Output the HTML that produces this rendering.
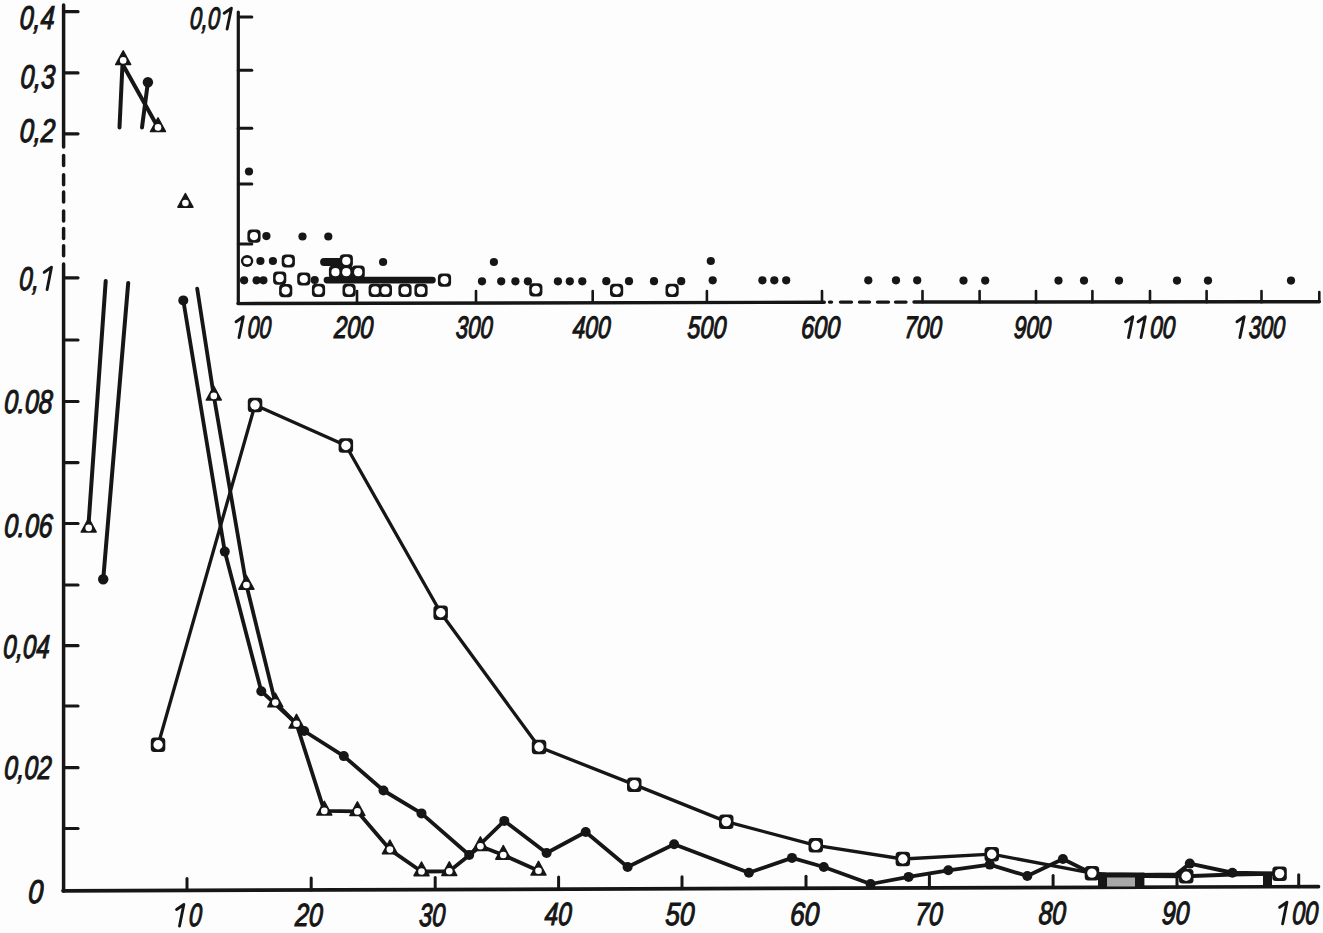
<!DOCTYPE html><html><head><meta charset="utf-8"><style>html,body{margin:0;padding:0;background:#fff;width:1323px;height:933px;overflow:hidden}svg{display:block}text{font-family:"Liberation Sans",sans-serif;font-style:italic;fill:#161616;stroke:#161616;stroke-width:1.15}</style></head><body>
<svg width="1323" height="933" viewBox="0 0 1323 933">
<rect width="1323" height="933" fill="#fdfdfd"/>
<path d="M63.6,5.0 L63.6,147.0" fill="none" stroke="#161616" stroke-width="3.5" stroke-linejoin="round" stroke-linecap="round" />
<path d="M63.6,155.5 L63.6,165.5" fill="none" stroke="#161616" stroke-width="3.5" stroke-linejoin="round" stroke-linecap="round" />
<path d="M63.6,174.7 L63.6,184.7" fill="none" stroke="#161616" stroke-width="3.5" stroke-linejoin="round" stroke-linecap="round" />
<path d="M63.6,192.0 L63.6,202.0" fill="none" stroke="#161616" stroke-width="3.5" stroke-linejoin="round" stroke-linecap="round" />
<path d="M63.6,211.0 L63.6,221.0" fill="none" stroke="#161616" stroke-width="3.5" stroke-linejoin="round" stroke-linecap="round" />
<path d="M63.6,228.4 L63.6,238.4" fill="none" stroke="#161616" stroke-width="3.5" stroke-linejoin="round" stroke-linecap="round" />
<path d="M63.6,245.7 L63.6,255.7" fill="none" stroke="#161616" stroke-width="3.5" stroke-linejoin="round" stroke-linecap="round" />
<path d="M63.6,264.0 L63.6,891.0" fill="none" stroke="#161616" stroke-width="3.5" stroke-linejoin="round" stroke-linecap="round" />
<path d="M63.0,890.8 L1318.5,886.6" fill="none" stroke="#161616" stroke-width="3.7" stroke-linejoin="round" stroke-linecap="round" />
<path d="M63.6,11.7 L78.0,11.7" fill="none" stroke="#161616" stroke-width="3.2" stroke-linejoin="round" stroke-linecap="round" />
<path d="M63.6,72.9 L78.0,72.9" fill="none" stroke="#161616" stroke-width="3.2" stroke-linejoin="round" stroke-linecap="round" />
<path d="M63.6,133.8 L78.0,133.8" fill="none" stroke="#161616" stroke-width="3.2" stroke-linejoin="round" stroke-linecap="round" />
<path d="M63.6,277.8 L78.0,277.8" fill="none" stroke="#161616" stroke-width="3.2" stroke-linejoin="round" stroke-linecap="round" />
<path d="M63.6,340.0 L78.0,340.0" fill="none" stroke="#161616" stroke-width="3.2" stroke-linejoin="round" stroke-linecap="round" />
<path d="M63.6,401.5 L78.0,401.5" fill="none" stroke="#161616" stroke-width="3.2" stroke-linejoin="round" stroke-linecap="round" />
<path d="M63.6,462.6 L78.0,462.6" fill="none" stroke="#161616" stroke-width="3.2" stroke-linejoin="round" stroke-linecap="round" />
<path d="M63.6,523.5 L78.0,523.5" fill="none" stroke="#161616" stroke-width="3.2" stroke-linejoin="round" stroke-linecap="round" />
<path d="M63.6,585.0 L78.0,585.0" fill="none" stroke="#161616" stroke-width="3.2" stroke-linejoin="round" stroke-linecap="round" />
<path d="M63.6,645.7 L78.0,645.7" fill="none" stroke="#161616" stroke-width="3.2" stroke-linejoin="round" stroke-linecap="round" />
<path d="M63.6,706.0 L78.0,706.0" fill="none" stroke="#161616" stroke-width="3.2" stroke-linejoin="round" stroke-linecap="round" />
<path d="M63.6,767.7 L78.0,767.7" fill="none" stroke="#161616" stroke-width="3.2" stroke-linejoin="round" stroke-linecap="round" />
<path d="M63.6,828.5 L78.0,828.5" fill="none" stroke="#161616" stroke-width="3.2" stroke-linejoin="round" stroke-linecap="round" />
<path d="M187.0,890.4 L187.0,878.4" fill="none" stroke="#161616" stroke-width="3.0" stroke-linejoin="round" stroke-linecap="round" />
<path d="M311.2,890.0 L311.2,878.0" fill="none" stroke="#161616" stroke-width="3.0" stroke-linejoin="round" stroke-linecap="round" />
<path d="M435.2,889.6 L435.2,877.6" fill="none" stroke="#161616" stroke-width="3.0" stroke-linejoin="round" stroke-linecap="round" />
<path d="M558.6,889.1 L558.6,877.1" fill="none" stroke="#161616" stroke-width="3.0" stroke-linejoin="round" stroke-linecap="round" />
<path d="M682.0,888.7 L682.0,876.7" fill="none" stroke="#161616" stroke-width="3.0" stroke-linejoin="round" stroke-linecap="round" />
<path d="M806.0,888.3 L806.0,876.3" fill="none" stroke="#161616" stroke-width="3.0" stroke-linejoin="round" stroke-linecap="round" />
<path d="M929.4,887.9 L929.4,875.9" fill="none" stroke="#161616" stroke-width="3.0" stroke-linejoin="round" stroke-linecap="round" />
<path d="M1053.1,887.5 L1053.1,875.5" fill="none" stroke="#161616" stroke-width="3.0" stroke-linejoin="round" stroke-linecap="round" />
<path d="M1177.0,887.1 L1177.0,875.1" fill="none" stroke="#161616" stroke-width="3.0" stroke-linejoin="round" stroke-linecap="round" />
<path d="M1298.7,886.7 L1298.7,874.7" fill="none" stroke="#161616" stroke-width="3.0" stroke-linejoin="round" stroke-linecap="round" />
<g transform="translate(19.3,28.5) skewX(-3)"><text x="0" y="0" textLength="34.8" lengthAdjust="spacingAndGlyphs" font-size="33">0,4</text></g>
<g transform="translate(19.9,88.3) skewX(-3)"><text x="0" y="0" textLength="34.7" lengthAdjust="spacingAndGlyphs" font-size="33">0,3</text></g>
<g transform="translate(19.3,142.0) skewX(-3)"><text x="0" y="0" textLength="35.4" lengthAdjust="spacingAndGlyphs" font-size="33">0,2</text></g>
<g transform="translate(18.7,289.5) skewX(-3)"><text x="0" y="0" textLength="33.5" lengthAdjust="spacingAndGlyphs" font-size="33">0, </text><path d="M28.4,0 L31.6,-22.2 L24.6,-17.2" fill="none" stroke="#161616" stroke-width="2.9" stroke-linecap="round" stroke-linejoin="round"/></g>
<g transform="translate(3.7,412.5) skewX(-3)"><text x="0" y="0" textLength="48.5" lengthAdjust="spacingAndGlyphs" font-size="33">0.08</text></g>
<g transform="translate(3.7,536.5) skewX(-3)"><text x="0" y="0" textLength="48.5" lengthAdjust="spacingAndGlyphs" font-size="33">0.06</text></g>
<g transform="translate(2.7,657.5) skewX(-3)"><text x="0" y="0" textLength="46.5" lengthAdjust="spacingAndGlyphs" font-size="33">0,04</text></g>
<g transform="translate(3.7,779.0) skewX(-3)"><text x="0" y="0" textLength="47.5" lengthAdjust="spacingAndGlyphs" font-size="33">0,02</text></g>
<g transform="translate(27.7,903.0) skewX(-3)"><text x="0" y="0" textLength="15.0" lengthAdjust="spacingAndGlyphs" font-size="33">0</text></g>
<g transform="translate(175.6,926.0) skewX(-3)"><text x="0" y="0" textLength="26.0" lengthAdjust="spacingAndGlyphs" font-size="32"> 0</text><path d="M3.9,0 L7.1,-21.5 L0.1,-16.5" fill="none" stroke="#161616" stroke-width="2.9" stroke-linecap="round" stroke-linejoin="round"/></g>
<g transform="translate(294.7,925.8) skewX(-3)"><text x="0" y="0" textLength="27.5" lengthAdjust="spacingAndGlyphs" font-size="32">20</text></g>
<g transform="translate(418.7,925.5) skewX(-3)"><text x="0" y="0" textLength="26.1" lengthAdjust="spacingAndGlyphs" font-size="32">30</text></g>
<g transform="translate(544.2,925.3) skewX(-3)"><text x="0" y="0" textLength="27.0" lengthAdjust="spacingAndGlyphs" font-size="32">40</text></g>
<g transform="translate(665.1,925.0) skewX(-3)"><text x="0" y="0" textLength="28.9" lengthAdjust="spacingAndGlyphs" font-size="32">50</text></g>
<g transform="translate(789.7,924.8) skewX(-3)"><text x="0" y="0" textLength="29.0" lengthAdjust="spacingAndGlyphs" font-size="32">60</text></g>
<g transform="translate(914.7,924.5) skewX(-3)"><text x="0" y="0" textLength="27.5" lengthAdjust="spacingAndGlyphs" font-size="32">70</text></g>
<g transform="translate(1038.2,924.3) skewX(-3)"><text x="0" y="0" textLength="27.3" lengthAdjust="spacingAndGlyphs" font-size="32">80</text></g>
<g transform="translate(1161.5,924.0) skewX(-3)"><text x="0" y="0" textLength="27.3" lengthAdjust="spacingAndGlyphs" font-size="32">90</text></g>
<g transform="translate(1278.7,923.8) skewX(-3)"><text x="0" y="0" textLength="38.9" lengthAdjust="spacingAndGlyphs" font-size="32"> 00</text><path d="M3.9,0 L7.1,-21.5 L0.1,-16.5" fill="none" stroke="#161616" stroke-width="2.9" stroke-linecap="round" stroke-linejoin="round"/></g>
<path d="M238.3,12.0 L238.3,303.5" fill="none" stroke="#161616" stroke-width="3.2" stroke-linejoin="round" stroke-linecap="round" />
<path d="M238.3,17.1 L251.8,17.1" fill="none" stroke="#161616" stroke-width="3.0" stroke-linejoin="round" stroke-linecap="round" />
<path d="M238.3,70.3 L251.8,70.3" fill="none" stroke="#161616" stroke-width="3.0" stroke-linejoin="round" stroke-linecap="round" />
<path d="M238.3,128.2 L251.8,128.2" fill="none" stroke="#161616" stroke-width="3.0" stroke-linejoin="round" stroke-linecap="round" />
<path d="M238.3,184.0 L251.8,184.0" fill="none" stroke="#161616" stroke-width="3.0" stroke-linejoin="round" stroke-linecap="round" />
<path d="M238.3,244.0 L251.8,244.0" fill="none" stroke="#161616" stroke-width="3.0" stroke-linejoin="round" stroke-linecap="round" />
<path d="M238.0,303.6 L824.3,302.2" fill="none" stroke="#161616" stroke-width="3.4" stroke-linejoin="round" stroke-linecap="round" />
<path d="M829.5,302.1 L831.5,302.1" fill="none" stroke="#161616" stroke-width="3.4" stroke-linejoin="round" stroke-linecap="round" />
<path d="M840.5,302.1 L851.5,302.1" fill="none" stroke="#161616" stroke-width="3.4" stroke-linejoin="round" stroke-linecap="round" />
<path d="M859.5,302.1 L869.5,302.1" fill="none" stroke="#161616" stroke-width="3.4" stroke-linejoin="round" stroke-linecap="round" />
<path d="M877.5,302.1 L888.5,302.1" fill="none" stroke="#161616" stroke-width="3.4" stroke-linejoin="round" stroke-linecap="round" />
<path d="M895.5,302.1 L906.0,302.1" fill="none" stroke="#161616" stroke-width="3.4" stroke-linejoin="round" stroke-linecap="round" />
<path d="M914.0,302.0 L1319.3,301.8" fill="none" stroke="#161616" stroke-width="3.4" stroke-linejoin="round" stroke-linecap="round" />
<path d="M1319.3,301.8 L1319.3,292.0" fill="none" stroke="#161616" stroke-width="2.6" stroke-linejoin="round" stroke-linecap="round" />
<path d="M357.0,302.3 L357.0,291.0" fill="none" stroke="#161616" stroke-width="2.6" stroke-linejoin="round" stroke-linecap="round" />
<path d="M476.0,302.3 L476.0,291.0" fill="none" stroke="#161616" stroke-width="2.6" stroke-linejoin="round" stroke-linecap="round" />
<path d="M592.7,302.3 L592.7,291.0" fill="none" stroke="#161616" stroke-width="2.6" stroke-linejoin="round" stroke-linecap="round" />
<path d="M706.9,302.3 L706.9,291.0" fill="none" stroke="#161616" stroke-width="2.6" stroke-linejoin="round" stroke-linecap="round" />
<path d="M822.0,302.3 L822.0,291.0" fill="none" stroke="#161616" stroke-width="2.6" stroke-linejoin="round" stroke-linecap="round" />
<path d="M922.5,302.3 L922.5,291.0" fill="none" stroke="#161616" stroke-width="2.6" stroke-linejoin="round" stroke-linecap="round" />
<path d="M979.6,302.3 L979.6,291.0" fill="none" stroke="#161616" stroke-width="2.6" stroke-linejoin="round" stroke-linecap="round" />
<path d="M1036.0,302.3 L1036.0,291.0" fill="none" stroke="#161616" stroke-width="2.6" stroke-linejoin="round" stroke-linecap="round" />
<path d="M1092.4,302.3 L1092.4,291.0" fill="none" stroke="#161616" stroke-width="2.6" stroke-linejoin="round" stroke-linecap="round" />
<path d="M1150.0,302.3 L1150.0,291.0" fill="none" stroke="#161616" stroke-width="2.6" stroke-linejoin="round" stroke-linecap="round" />
<path d="M1206.6,302.3 L1206.6,291.0" fill="none" stroke="#161616" stroke-width="2.6" stroke-linejoin="round" stroke-linecap="round" />
<path d="M1261.5,302.3 L1261.5,291.0" fill="none" stroke="#161616" stroke-width="2.6" stroke-linejoin="round" stroke-linecap="round" />
<g transform="translate(189.4,29.0) skewX(-3)"><text x="0" y="0" textLength="42.3" lengthAdjust="spacingAndGlyphs" font-size="31">0,0 </text><path d="M37.7,0 L40.9,-20.8 L33.9,-15.8" fill="none" stroke="#161616" stroke-width="2.9" stroke-linecap="round" stroke-linejoin="round"/></g>
<g transform="translate(235.5,337.5) skewX(-3)"><text x="0" y="0" textLength="35.3" lengthAdjust="spacingAndGlyphs" font-size="31"> 00</text><path d="M3.5,0 L6.7,-20.8 L-0.3,-15.8" fill="none" stroke="#161616" stroke-width="2.9" stroke-linecap="round" stroke-linejoin="round"/></g>
<g transform="translate(333.7,337.5) skewX(-3)"><text x="0" y="0" textLength="39.1" lengthAdjust="spacingAndGlyphs" font-size="31">200</text></g>
<g transform="translate(455.4,337.5) skewX(-3)"><text x="0" y="0" textLength="36.8" lengthAdjust="spacingAndGlyphs" font-size="31">300</text></g>
<g transform="translate(572.2,337.5) skewX(-3)"><text x="0" y="0" textLength="38.0" lengthAdjust="spacingAndGlyphs" font-size="31">400</text></g>
<g transform="translate(687.1,337.5) skewX(-3)"><text x="0" y="0" textLength="38.8" lengthAdjust="spacingAndGlyphs" font-size="31">500</text></g>
<g transform="translate(800.7,337.5) skewX(-3)"><text x="0" y="0" textLength="39.0" lengthAdjust="spacingAndGlyphs" font-size="31">600</text></g>
<g transform="translate(904.0,337.5) skewX(-3)"><text x="0" y="0" textLength="37.5" lengthAdjust="spacingAndGlyphs" font-size="31">700</text></g>
<g transform="translate(1013.5,337.5) skewX(-3)"><text x="0" y="0" textLength="37.2" lengthAdjust="spacingAndGlyphs" font-size="31">900</text></g>
<g transform="translate(1124.7,337.5) skewX(-3)"><text x="0" y="0" textLength="50.0" lengthAdjust="spacingAndGlyphs" font-size="31">  00</text><path d="M3.8,0 L7.0,-20.8 L-0.0,-15.8" fill="none" stroke="#161616" stroke-width="2.9" stroke-linecap="round" stroke-linejoin="round"/><path d="M16.3,0 L19.5,-20.8 L12.5,-15.8" fill="none" stroke="#161616" stroke-width="2.9" stroke-linecap="round" stroke-linejoin="round"/></g>
<g transform="translate(1236.3,337.5) skewX(-3)"><text x="0" y="0" textLength="48.4" lengthAdjust="spacingAndGlyphs" font-size="31"> 300</text><path d="M3.6,0 L6.8,-20.8 L-0.2,-15.8" fill="none" stroke="#161616" stroke-width="2.9" stroke-linecap="round" stroke-linejoin="round"/></g>
<path d="M327.0,280.1 L432.4,280.1" fill="none" stroke="#161616" stroke-width="6.8" stroke-linejoin="round" stroke-linecap="round" />
<path d="M324.0,262.0 L340.0,262.0" fill="none" stroke="#161616" stroke-width="7.8" stroke-linejoin="round" stroke-linecap="round" />
<circle cx="249.0" cy="171.5" r="4.1" fill="#161616"/>
<circle cx="266.4" cy="236.1" r="4.1" fill="#161616"/>
<circle cx="302.5" cy="236.5" r="4.1" fill="#161616"/>
<circle cx="328.3" cy="236.5" r="4.1" fill="#161616"/>
<circle cx="260.4" cy="261.0" r="4.1" fill="#161616"/>
<circle cx="272.9" cy="261.0" r="4.1" fill="#161616"/>
<circle cx="383.1" cy="262.0" r="4.1" fill="#161616"/>
<circle cx="244.1" cy="280.3" r="4.1" fill="#161616"/>
<circle cx="256.6" cy="280.3" r="4.1" fill="#161616"/>
<circle cx="263.4" cy="280.3" r="4.1" fill="#161616"/>
<circle cx="314.7" cy="280.0" r="4.1" fill="#161616"/>
<circle cx="482.0" cy="281.3" r="4.1" fill="#161616"/>
<circle cx="501.2" cy="281.3" r="4.1" fill="#161616"/>
<circle cx="515.4" cy="281.3" r="4.1" fill="#161616"/>
<circle cx="527.9" cy="281.3" r="4.1" fill="#161616"/>
<circle cx="557.9" cy="281.3" r="4.1" fill="#161616"/>
<circle cx="569.8" cy="281.3" r="4.1" fill="#161616"/>
<circle cx="582.3" cy="281.3" r="4.1" fill="#161616"/>
<circle cx="606.3" cy="281.2" r="4.1" fill="#161616"/>
<circle cx="629.0" cy="281.2" r="4.1" fill="#161616"/>
<circle cx="654.0" cy="281.2" r="4.1" fill="#161616"/>
<circle cx="681.2" cy="281.2" r="4.1" fill="#161616"/>
<circle cx="493.9" cy="262.0" r="4.1" fill="#161616"/>
<circle cx="712.7" cy="280.3" r="4.1" fill="#161616"/>
<circle cx="762.4" cy="280.3" r="4.1" fill="#161616"/>
<circle cx="774.3" cy="280.3" r="4.1" fill="#161616"/>
<circle cx="786.2" cy="280.3" r="4.1" fill="#161616"/>
<circle cx="868.3" cy="280.3" r="4.1" fill="#161616"/>
<circle cx="896.0" cy="280.3" r="4.1" fill="#161616"/>
<circle cx="917.2" cy="280.3" r="4.1" fill="#161616"/>
<circle cx="963.5" cy="280.6" r="4.1" fill="#161616"/>
<circle cx="985.2" cy="280.6" r="4.1" fill="#161616"/>
<circle cx="1058.5" cy="280.6" r="4.1" fill="#161616"/>
<circle cx="1084.0" cy="280.6" r="4.1" fill="#161616"/>
<circle cx="1119.0" cy="280.6" r="4.1" fill="#161616"/>
<circle cx="1177.0" cy="280.6" r="4.1" fill="#161616"/>
<circle cx="1208.0" cy="280.6" r="4.1" fill="#161616"/>
<circle cx="1291.0" cy="280.6" r="4.1" fill="#161616"/>
<circle cx="710.8" cy="261.0" r="4.1" fill="#161616"/>
<rect x="247.4" y="229.5" width="13.2" height="13.2" rx="4" fill="#161616"/>
<circle cx="254.0" cy="236.1" r="4.1" fill="#fff"/>
<rect x="281.7" y="254.4" width="13.2" height="13.2" rx="4" fill="#161616"/>
<circle cx="288.3" cy="261.0" r="4.1" fill="#fff"/>
<rect x="339.7" y="254.3" width="13.2" height="13.2" rx="4" fill="#161616"/>
<circle cx="346.3" cy="260.9" r="4.1" fill="#fff"/>
<rect x="273.1" y="271.6" width="13.2" height="13.2" rx="4" fill="#161616"/>
<circle cx="279.7" cy="278.2" r="4.1" fill="#fff"/>
<rect x="279.1" y="284.0" width="13.2" height="13.2" rx="4" fill="#161616"/>
<circle cx="285.7" cy="290.6" r="4.1" fill="#fff"/>
<rect x="297.2" y="272.4" width="13.2" height="13.2" rx="4" fill="#161616"/>
<circle cx="303.8" cy="279.0" r="4.1" fill="#fff"/>
<rect x="311.9" y="283.8" width="13.2" height="13.2" rx="4" fill="#161616"/>
<circle cx="318.5" cy="290.4" r="4.1" fill="#fff"/>
<rect x="328.9" y="265.6" width="13.2" height="13.2" rx="4" fill="#161616"/>
<circle cx="335.5" cy="272.2" r="4.1" fill="#fff"/>
<rect x="339.7" y="265.6" width="13.2" height="13.2" rx="4" fill="#161616"/>
<circle cx="346.3" cy="272.2" r="4.1" fill="#fff"/>
<rect x="351.6" y="265.6" width="13.2" height="13.2" rx="4" fill="#161616"/>
<circle cx="358.2" cy="272.2" r="4.1" fill="#fff"/>
<rect x="342.5" y="283.8" width="13.2" height="13.2" rx="4" fill="#161616"/>
<circle cx="349.1" cy="290.4" r="4.1" fill="#fff"/>
<rect x="368.6" y="283.8" width="13.2" height="13.2" rx="4" fill="#161616"/>
<circle cx="375.2" cy="290.4" r="4.1" fill="#fff"/>
<rect x="378.8" y="283.8" width="13.2" height="13.2" rx="4" fill="#161616"/>
<circle cx="385.4" cy="290.4" r="4.1" fill="#fff"/>
<rect x="398.4" y="283.8" width="13.2" height="13.2" rx="4" fill="#161616"/>
<circle cx="405.0" cy="290.4" r="4.1" fill="#fff"/>
<rect x="414.4" y="283.8" width="13.2" height="13.2" rx="4" fill="#161616"/>
<circle cx="421.0" cy="290.4" r="4.1" fill="#fff"/>
<rect x="437.9" y="273.5" width="13.2" height="13.2" rx="4" fill="#161616"/>
<circle cx="444.5" cy="280.1" r="4.1" fill="#fff"/>
<rect x="529.2" y="283.2" width="13.2" height="13.2" rx="4" fill="#161616"/>
<circle cx="535.8" cy="289.8" r="4.1" fill="#fff"/>
<rect x="610.0" y="283.7" width="13.2" height="13.2" rx="4" fill="#161616"/>
<circle cx="616.6" cy="290.3" r="4.1" fill="#fff"/>
<rect x="665.5" y="283.7" width="13.2" height="13.2" rx="4" fill="#161616"/>
<circle cx="672.1" cy="290.3" r="4.1" fill="#fff"/>
<ellipse cx="247.1" cy="261" rx="6.2" ry="6" fill="#161616"/>
<ellipse cx="247.1" cy="261" rx="3.8" ry="3.3" fill="#fff"/>
<path d="M88.7,522.0 L105.7,281.0" fill="none" stroke="#161616" stroke-width="4.0" stroke-linejoin="round" stroke-linecap="round" />
<path d="M103.2,579.3 L128.2,283.0" fill="none" stroke="#161616" stroke-width="4.0" stroke-linejoin="round" stroke-linecap="round" />
<path d="M119.5,127.4 L122.5,64.0 L158.0,127.4" fill="none" stroke="#161616" stroke-width="4.0" stroke-linejoin="round" stroke-linecap="round" />
<path d="M142.0,127.4 L147.9,82.3" fill="none" stroke="#161616" stroke-width="4.0" stroke-linejoin="round" stroke-linecap="round" />
<path d="M115.7,64.6 L130.7,64.6 L123.2,50.9 Z" fill="#161616" stroke="#161616" stroke-width="1.5" stroke-linejoin="round"/>
<circle cx="123.2" cy="60.4" r="3.3" fill="#fff"/>
<circle cx="147.9" cy="82.3" r="5.2" fill="#161616"/>
<path d="M150.5,131.6 L165.5,131.6 L158.0,117.9 Z" fill="#161616" stroke="#161616" stroke-width="1.5" stroke-linejoin="round"/>
<circle cx="158.0" cy="127.4" r="3.3" fill="#fff"/>
<path d="M177.9,207.2 L192.9,207.2 L185.4,193.5 Z" fill="#161616" stroke="#161616" stroke-width="1.5" stroke-linejoin="round"/>
<circle cx="185.4" cy="203.0" r="3.3" fill="#fff"/>
<path d="M197.2,288.6 L213.8,395.9 L246.4,585.0 L275.3,702.6 L296.5,723.8 L324.3,810.9 L357.4,811.4 L389.9,849.6 L421.5,871.5 L449.3,871.3 L480.4,846.3 L503.3,855.0 L538.5,870.8" fill="none" stroke="#161616" stroke-width="3.8" stroke-linejoin="round" stroke-linecap="round" />
<path d="M183.3,300.4 L224.8,551.6 L261.3,691.2 L304.2,731.0 L343.8,756.1 L383.5,790.5 L421.5,813.4 L469.2,855.0 L504.3,820.9 L546.6,853.0 L585.7,832.0 L627.6,867.0 L674.1,844.3 L748.9,872.7 L792.0,857.9 L823.8,867.0 L870.6,884.0 L908.6,876.9 L948.3,870.3 L989.8,864.6 L1027.3,876.0 L1062.9,859.0 L1092.0,873.5" fill="none" stroke="#161616" stroke-width="3.8" stroke-linejoin="round" stroke-linecap="round" />
<path d="M158.1,744.8 L255.0,405.0 L345.9,445.5 L440.7,612.8 L539.0,747.0 L634.3,784.6 L726.3,821.6 L815.8,845.4 L902.9,859.0 L991.7,854.2 L1091.9,873.1" fill="none" stroke="#161616" stroke-width="3.3" stroke-linejoin="round" stroke-linecap="round" />
<path d="M1092.0,873.5 L1106.0,874.5 L1138.0,875.0 L1176.0,874.5 L1189.8,863.6 L1232.4,872.7 L1279.6,873.6" fill="none" stroke="#161616" stroke-width="4.0" stroke-linejoin="round" stroke-linecap="round" />
<path d="M1144.0,876.0 L1186.2,876.3 L1232.4,874.5 L1279.6,873.6" fill="none" stroke="#161616" stroke-width="4.0" stroke-linejoin="round" stroke-linecap="round" />
<rect x="1098" y="872.5" width="46.4" height="15" fill="#161616"/>
<rect x="1107" y="877.5" width="28" height="9" fill="#a8a8a8"/>
<rect x="1263" y="873" width="9" height="14" fill="#161616"/>
<path d="M206.3,400.1 L221.3,400.1 L213.8,386.4 Z" fill="#161616" stroke="#161616" stroke-width="1.5" stroke-linejoin="round"/>
<circle cx="213.8" cy="395.9" r="3.3" fill="#fff"/>
<path d="M238.9,589.2 L253.9,589.2 L246.4,575.5 Z" fill="#161616" stroke="#161616" stroke-width="1.5" stroke-linejoin="round"/>
<circle cx="246.4" cy="585.0" r="3.3" fill="#fff"/>
<path d="M267.8,706.8 L282.8,706.8 L275.3,693.1 Z" fill="#161616" stroke="#161616" stroke-width="1.5" stroke-linejoin="round"/>
<circle cx="275.3" cy="702.6" r="3.3" fill="#fff"/>
<path d="M289.0,728.0 L304.0,728.0 L296.5,714.3 Z" fill="#161616" stroke="#161616" stroke-width="1.5" stroke-linejoin="round"/>
<circle cx="296.5" cy="723.8" r="3.3" fill="#fff"/>
<path d="M316.8,815.1 L331.8,815.1 L324.3,801.4 Z" fill="#161616" stroke="#161616" stroke-width="1.5" stroke-linejoin="round"/>
<circle cx="324.3" cy="810.9" r="3.3" fill="#fff"/>
<path d="M349.9,815.6 L364.9,815.6 L357.4,801.9 Z" fill="#161616" stroke="#161616" stroke-width="1.5" stroke-linejoin="round"/>
<circle cx="357.4" cy="811.4" r="3.3" fill="#fff"/>
<path d="M382.4,853.8 L397.4,853.8 L389.9,840.1 Z" fill="#161616" stroke="#161616" stroke-width="1.5" stroke-linejoin="round"/>
<circle cx="389.9" cy="849.6" r="3.3" fill="#fff"/>
<path d="M414.0,875.7 L429.0,875.7 L421.5,862.0 Z" fill="#161616" stroke="#161616" stroke-width="1.5" stroke-linejoin="round"/>
<circle cx="421.5" cy="871.5" r="3.3" fill="#fff"/>
<path d="M441.8,875.5 L456.8,875.5 L449.3,861.8 Z" fill="#161616" stroke="#161616" stroke-width="1.5" stroke-linejoin="round"/>
<circle cx="449.3" cy="871.3" r="3.3" fill="#fff"/>
<path d="M472.9,850.5 L487.9,850.5 L480.4,836.8 Z" fill="#161616" stroke="#161616" stroke-width="1.5" stroke-linejoin="round"/>
<circle cx="480.4" cy="846.3" r="3.3" fill="#fff"/>
<path d="M495.8,859.2 L510.8,859.2 L503.3,845.5 Z" fill="#161616" stroke="#161616" stroke-width="1.5" stroke-linejoin="round"/>
<circle cx="503.3" cy="855.0" r="3.3" fill="#fff"/>
<path d="M531.0,875.0 L546.0,875.0 L538.5,861.3 Z" fill="#161616" stroke="#161616" stroke-width="1.5" stroke-linejoin="round"/>
<circle cx="538.5" cy="870.8" r="3.3" fill="#fff"/>
<path d="M81.2,532.1 L96.2,532.1 L88.7,518.4 Z" fill="#161616" stroke="#161616" stroke-width="1.5" stroke-linejoin="round"/>
<circle cx="88.7" cy="527.9" r="3.3" fill="#fff"/>
<circle cx="183.3" cy="300.4" r="5.0" fill="#161616"/>
<circle cx="224.8" cy="551.6" r="5.0" fill="#161616"/>
<circle cx="261.3" cy="691.2" r="5.0" fill="#161616"/>
<circle cx="304.2" cy="731.0" r="5.0" fill="#161616"/>
<circle cx="343.8" cy="756.1" r="5.0" fill="#161616"/>
<circle cx="383.5" cy="790.5" r="5.0" fill="#161616"/>
<circle cx="421.5" cy="813.4" r="5.0" fill="#161616"/>
<circle cx="469.2" cy="855.0" r="5.0" fill="#161616"/>
<circle cx="504.3" cy="820.9" r="5.0" fill="#161616"/>
<circle cx="546.6" cy="853.0" r="5.0" fill="#161616"/>
<circle cx="585.7" cy="832.0" r="5.0" fill="#161616"/>
<circle cx="627.6" cy="867.0" r="5.0" fill="#161616"/>
<circle cx="674.1" cy="844.3" r="5.0" fill="#161616"/>
<circle cx="748.9" cy="872.7" r="5.0" fill="#161616"/>
<circle cx="792.0" cy="857.9" r="5.0" fill="#161616"/>
<circle cx="823.8" cy="867.0" r="5.0" fill="#161616"/>
<circle cx="870.6" cy="884.0" r="5.0" fill="#161616"/>
<circle cx="908.6" cy="876.9" r="5.0" fill="#161616"/>
<circle cx="948.3" cy="870.3" r="5.0" fill="#161616"/>
<circle cx="989.8" cy="864.6" r="5.0" fill="#161616"/>
<circle cx="1027.3" cy="876.0" r="5.0" fill="#161616"/>
<circle cx="1062.9" cy="859.0" r="5.0" fill="#161616"/>
<circle cx="103.2" cy="579.3" r="5.2" fill="#161616"/>
<circle cx="1189.8" cy="863.6" r="5.0" fill="#161616"/>
<circle cx="1232.4" cy="872.7" r="5.0" fill="#161616"/>
<rect x="150.8" y="737.5" width="14.5" height="14.5" rx="3.5" fill="#161616"/>
<circle cx="158.1" cy="744.8" r="4.7" fill="#fff"/>
<rect x="247.8" y="397.8" width="14.5" height="14.5" rx="3.5" fill="#161616"/>
<circle cx="255.0" cy="405.0" r="4.7" fill="#fff"/>
<rect x="338.6" y="438.2" width="14.5" height="14.5" rx="3.5" fill="#161616"/>
<circle cx="345.9" cy="445.5" r="4.7" fill="#fff"/>
<rect x="433.4" y="605.5" width="14.5" height="14.5" rx="3.5" fill="#161616"/>
<circle cx="440.7" cy="612.8" r="4.7" fill="#fff"/>
<rect x="531.8" y="739.8" width="14.5" height="14.5" rx="3.5" fill="#161616"/>
<circle cx="539.0" cy="747.0" r="4.7" fill="#fff"/>
<rect x="627.0" y="777.4" width="14.5" height="14.5" rx="3.5" fill="#161616"/>
<circle cx="634.3" cy="784.6" r="4.7" fill="#fff"/>
<rect x="719.0" y="814.4" width="14.5" height="14.5" rx="3.5" fill="#161616"/>
<circle cx="726.3" cy="821.6" r="4.7" fill="#fff"/>
<rect x="808.5" y="838.1" width="14.5" height="14.5" rx="3.5" fill="#161616"/>
<circle cx="815.8" cy="845.4" r="4.7" fill="#fff"/>
<rect x="895.6" y="851.8" width="14.5" height="14.5" rx="3.5" fill="#161616"/>
<circle cx="902.9" cy="859.0" r="4.7" fill="#fff"/>
<rect x="984.5" y="847.0" width="14.5" height="14.5" rx="3.5" fill="#161616"/>
<circle cx="991.7" cy="854.2" r="4.7" fill="#fff"/>
<rect x="1084.7" y="865.9" width="14.5" height="14.5" rx="3.5" fill="#161616"/>
<circle cx="1091.9" cy="873.1" r="4.7" fill="#fff"/>
<rect x="1179.0" y="869.0" width="14.5" height="14.5" rx="3.5" fill="#161616"/>
<circle cx="1186.2" cy="876.3" r="4.7" fill="#fff"/>
<rect x="1272.3" y="866.4" width="14.5" height="14.5" rx="3.5" fill="#161616"/>
<circle cx="1279.6" cy="873.6" r="4.7" fill="#fff"/>
</svg></body></html>
